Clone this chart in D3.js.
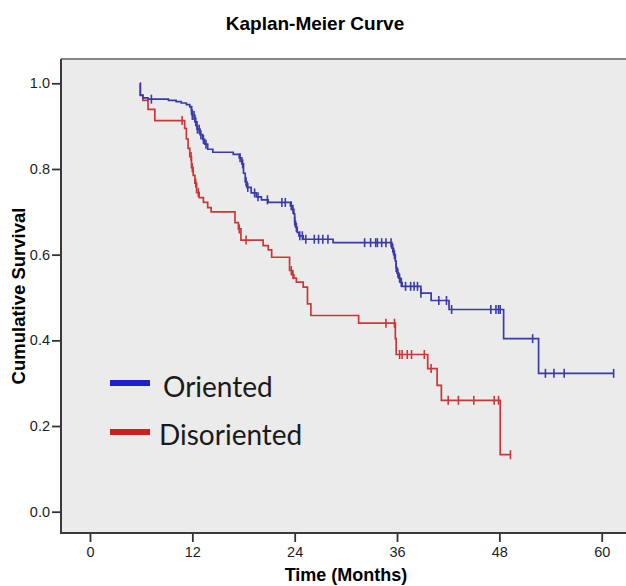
<!DOCTYPE html>
<html>
<head>
<meta charset="utf-8">
<script src="https://cdn.jsdelivr.net/npm/d3@7"></script>
<style>
  body { margin: 0; background: #fff; }
  text { font-family: "Liberation Sans", Arial, sans-serif; }
</style>
</head>
<body>
<div id="km"></div>
<script>
// step events: time (months) and survival after the drop
let startTime = 5.85;

let orientedTimes = [5.9, 6.2, 6.8, 9.2, 10.1, 10.7, 11.3, 11.7, 11.9, 12.0, 12.3, 12.55, 12.9, 13.2, 13.45, 13.8, 14.4,
    16.8, 17.5, 17.8, 18.0, 18.2, 18.4, 18.9, 19.5, 20.1, 20.9, 23.5, 23.7, 23.9, 24.0, 24.1, 24.3, 24.5, 25.0, 28.5,
    35.4, 35.6, 35.8, 35.9, 36.0, 36.2, 36.4, 36.6, 38.8, 40.0, 42.1, 48.5, 52.6];
let orientedSurv = [0.972, 0.966, 0.963, 0.960, 0.957, 0.954, 0.950, 0.945, 0.937, 0.925, 0.910, 0.893, 0.880, 0.869, 0.858, 0.846, 0.839,
    0.834, 0.826, 0.812, 0.790, 0.770, 0.757, 0.744, 0.735, 0.728, 0.722, 0.714, 0.706, 0.695, 0.678, 0.664, 0.652, 0.644, 0.636, 0.628,
    0.615, 0.600, 0.585, 0.570, 0.557, 0.545, 0.535, 0.526, 0.510, 0.493, 0.472, 0.404, 0.323];
let orientedEnd = 61.4;
let orientedCensor = [7.2, 11.9, 12.0, 12.2, 12.4, 12.6, 12.8, 13.0, 13.3, 13.6, 17.6, 17.9, 18.3, 18.5, 19.3, 19.7, 20.8, 22.5, 22.9,
    23.6, 23.8, 24.0, 24.2, 24.6, 24.9, 25.3, 26.3, 26.8, 27.3, 27.9, 32.2, 32.9, 33.5, 33.7, 34.2, 34.7, 35.3, 35.5, 35.7, 35.9,
    36.1, 36.3, 36.5, 37.0, 37.6, 38.0, 38.4, 38.8, 40.9, 41.8, 42.4, 47.0, 47.6, 47.9, 48.1, 51.9, 53.4, 54.4, 55.6, 61.4];

let disorientedTimes = [5.9, 6.2, 6.8, 7.6, 11.1, 11.3, 11.5, 11.7, 11.9, 12.1, 12.3, 12.5, 12.8, 13.3, 13.8, 14.2,
    17.0, 17.4, 17.7, 20.3, 20.9, 21.3, 23.4, 23.7, 23.9, 24.2, 25.0, 25.5, 25.9, 31.5, 35.8, 35.9, 39.6, 40.7, 41.2, 48.1];
let disorientedSurv = [0.973, 0.960, 0.939, 0.913, 0.895, 0.870, 0.848, 0.829, 0.803, 0.785, 0.767, 0.745, 0.733, 0.722, 0.710, 0.700,
    0.675, 0.660, 0.634, 0.621, 0.611, 0.594, 0.563, 0.553, 0.545, 0.536, 0.524, 0.485, 0.458, 0.440, 0.404, 0.367, 0.334, 0.295, 0.260, 0.133];
let disorientedEnd = 49.3;
let disorientedCensor = [10.8, 11.85, 12.0, 12.4, 12.7, 17.5, 18.3, 23.6, 23.8, 34.7, 35.7, 36.3, 36.6, 37.2, 37.7, 39.2, 40.0,
    42.0, 43.2, 45.0, 47.4, 47.9, 49.3];

let xTicks = [0, 12, 24, 36, 48, 60];
let yTicks = [0, 0.2, 0.4, 0.6, 0.8, 1.0];

let groups = ["Oriented", "Disoriented"];
let lineColors = ["#3a3aa8", "#c93838"];
let legendColors = ["#1f1fd0", "#cc1f1f"];

gen_vis();

function stepPoints(times, surv, end) {
    let pts = [[startTime, 1.0]];
    times.forEach((t, i) => pts.push([t, surv[i]]));
    pts.push([end, surv[surv.length - 1]]);
    return pts;
}

function survAt(times, surv, t) {
    let s = 1.0;
    times.forEach((tt, i) => { if (tt <= t) s = surv[i]; });
    return s;
}

function gen_vis() {
    let W = 626, H = 586;
    let frame = { left: 61, top: 59, bottom: 533, right: 640 };

    let svg = d3.select("#km")
        .append("svg")
        .attr("width", W)
        .attr("height", H);

    let x = d3.scaleLinear().domain([0, 60]).range([90, 601.7]);
    let y = d3.scaleLinear().domain([0, 1]).range([511.7, 83.3]);

    svg.append("text")
        .attr("x", 315).attr("y", 30)
        .attr("text-anchor", "middle")
        .style("font-size", "19px").style("font-weight", "bold")
        .text("Kaplan-Meier Curve");

    // plot panel
    svg.append("rect")
        .attr("x", frame.left).attr("y", frame.top)
        .attr("width", frame.right - frame.left).attr("height", frame.bottom - frame.top)
        .style("fill", "#ebebeb");
    svg.append("line")
        .attr("x1", frame.left).attr("x2", frame.right)
        .attr("y1", frame.top).attr("y2", frame.top)
        .style("stroke", "#858585").style("stroke-width", 2);
    svg.append("line")
        .attr("x1", frame.left).attr("x2", frame.right)
        .attr("y1", frame.bottom).attr("y2", frame.bottom)
        .style("stroke", "#3a3a3a").style("stroke-width", 2);
    svg.append("line")
        .attr("x1", frame.left).attr("x2", frame.left)
        .attr("y1", frame.top).attr("y2", frame.bottom + 1)
        .style("stroke", "#3a3a3a").style("stroke-width", 2);

    let xAxis = svg.append("g")
        .attr("transform", "translate(0," + (frame.bottom + 1) + ")")
        .call(d3.axisBottom(x).tickValues(xTicks).tickSize(8).tickPadding(5).tickSizeOuter(0));
    xAxis.select(".domain").remove();
    xAxis.selectAll("line").style("stroke", "#333").style("stroke-width", 1.8);
    xAxis.selectAll("text").style("font-size", "14.5px").style("fill", "#1e1e1e")
        .style("font-family", "'Liberation Sans', Arial, sans-serif");

    let yAxis = svg.append("g")
        .attr("transform", "translate(" + (frame.left - 1) + ",0)")
        .call(d3.axisLeft(y).tickValues(yTicks).tickFormat(d3.format(".1f")).tickSize(8).tickPadding(2).tickSizeOuter(0));
    yAxis.select(".domain").remove();
    yAxis.selectAll("line").style("stroke", "#333").style("stroke-width", 1.8);
    yAxis.selectAll("text").style("font-size", "14.5px").style("fill", "#1e1e1e")
        .style("font-family", "'Liberation Sans', Arial, sans-serif");

    svg.append("text")
        .attr("x", 346).attr("y", 581)
        .attr("text-anchor", "middle")
        .style("font-size", "18px").style("font-weight", "bold")
        .text("Time (Months)");

    svg.append("text")
        .attr("transform", "translate(25,296) rotate(-90)")
        .attr("text-anchor", "middle")
        .style("font-size", "18.5px").style("font-weight", "bold")
        .text("Cumulative Survival");

    let series = [
        { times: orientedTimes, surv: orientedSurv, end: orientedEnd, censor: orientedCensor },
        { times: disorientedTimes, surv: disorientedSurv, end: disorientedEnd, censor: disorientedCensor }
    ];

    let line = d3.line()
        .x(d => x(d[0]))
        .y(d => y(d[1]))
        .curve(d3.curveStepAfter);

    // red first so blue sits on top like the original
    [1, 0].forEach(i => {
        let s = series[i];
        svg.append("path")
            .datum(stepPoints(s.times, s.surv, s.end))
            .attr("d", line)
            .style("fill", "none")
            .style("stroke", lineColors[i])
            .style("stroke-width", 1.7);

        svg.selectAll(".censor" + i)
            .data(s.censor)
            .enter().append("line")
            .attr("class", "censor" + i)
            .attr("x1", d => x(d)).attr("x2", d => x(d))
            .attr("y1", d => y(survAt(s.times, s.surv, d)) - 4.5)
            .attr("y2", d => y(survAt(s.times, s.surv, d)) + 4.5)
            .style("stroke", lineColors[i])
            .style("stroke-width", 1.6);
    });

    // legend
    let legY = [383, 432];
    let legTextX = [163, 159];
    let legTextY = [396.5, 445];
    groups.forEach((g, i) => {
        svg.append("line")
            .attr("x1", 110).attr("x2", 150)
            .attr("y1", legY[i]).attr("y2", legY[i])
            .style("stroke", legendColors[i]).style("stroke-width", 6);
        svg.append("text")
            .attr("x", legTextX[i]).attr("y", legTextY[i])
            .style("font-family", "Lato, 'Open Sans', sans-serif")
            .style("font-size", "28px")
            .style("fill", "#1a1a1a")
            .text(g);
    });
}
</script>
</body>
</html>
